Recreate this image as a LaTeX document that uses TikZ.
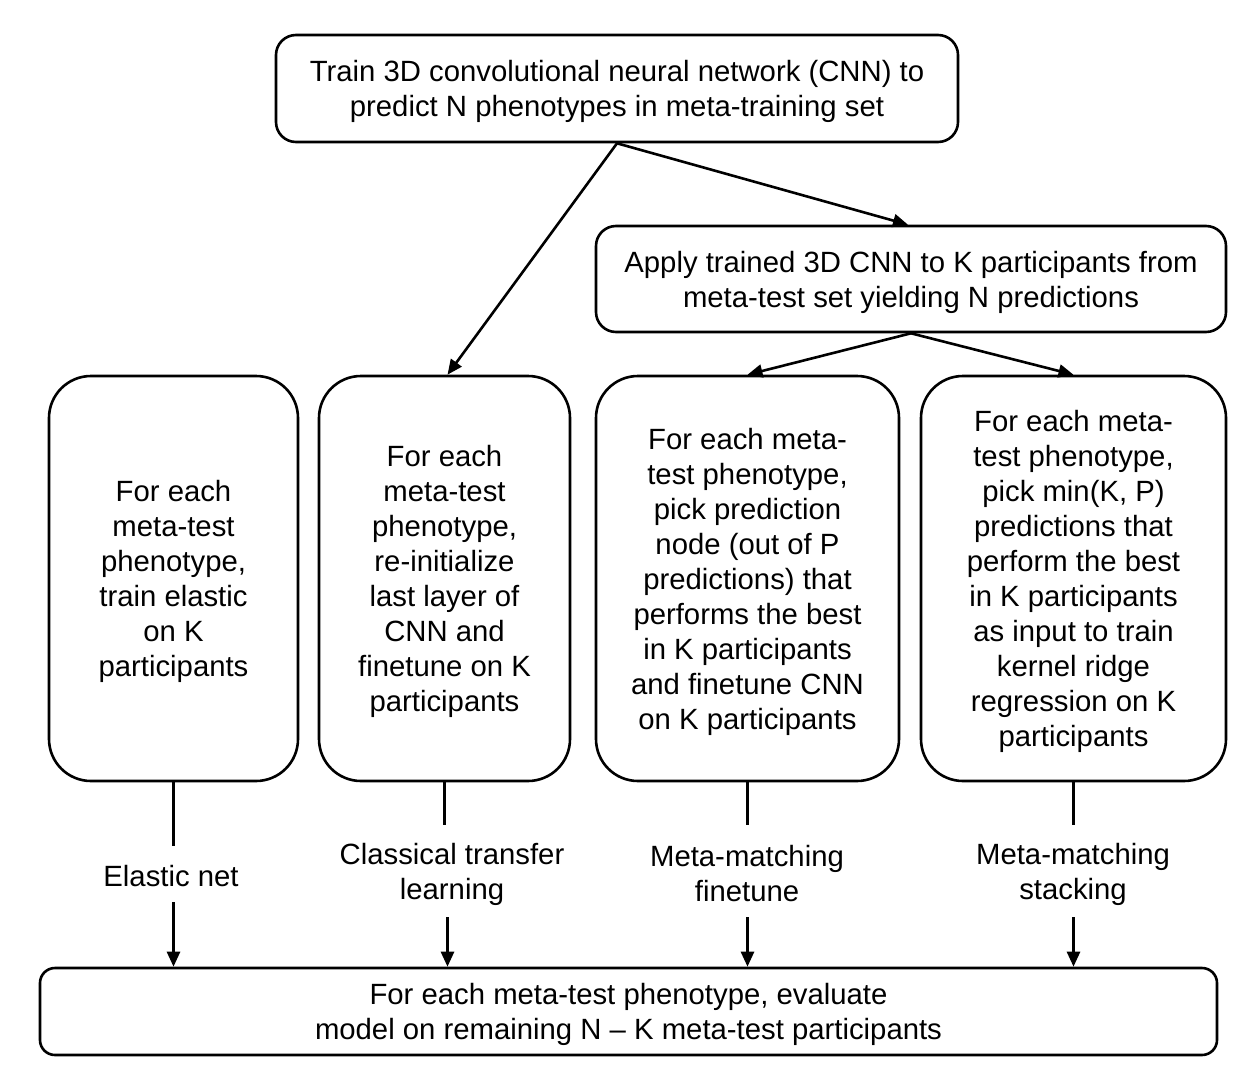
\documentclass[tikz,border=0pt]{standalone}
\usepackage{fontspec}
\setmainfont{Liberation Sans}
\usetikzlibrary{arrows.meta}
\begin{document}
\begin{tikzpicture}[x=1pt,y=-1pt,
  every node/.style={font=\fontsize{29.3}{35}\selectfont, align=center, inner sep=0pt},
  box/.style={draw, line width=2.6pt, rectangle},
  flow/.style={line width=2.6pt},
  arr/.style={line width=2.6pt, -{Triangle[length=15pt,width=13pt]}}
]
\useasboundingbox (0,0) rectangle (1256,1074);

\node[box, rounded corners=20pt, minimum width=682pt, minimum height=107pt] (top) at (617,88.5) {};
\node (topt) at ([yshift=-3pt]top.center)
  {Train 3D convolutional neural network (CNN) to\\predict N phenotypes in meta-training set};
\node[box, rounded corners=20pt, minimum width=630pt, minimum height=106pt] (apply) at (911,279) {};
\node (applyt) at ([yshift=-3pt]apply.center)
  {Apply trained 3D CNN to K participants from\\meta-test set yielding N predictions};

\node[box, rounded corners=42pt, minimum width=249pt, minimum height=405pt] (b1) at (173.5,578.5) {};
\node (b1t) at ([yshift=-3pt]b1.center)
  {For each\\meta-test\\phenotype,\\train elastic\\on K\\participants};
\node[box, rounded corners=42pt, minimum width=251pt, minimum height=405pt] (b2) at (444.5,578.5) {};
\node (b2t) at ([yshift=-3pt]b2.center)
  {For each\\meta-test\\phenotype,\\re-initialize\\last layer of\\CNN and\\finetune on K\\participants};
\node[box, rounded corners=42pt, minimum width=303pt, minimum height=405pt] (b3) at (747.5,578.5) {};
\node (b3t) at ([yshift=-3pt]b3.center)
  {For each meta-\\test phenotype,\\pick prediction\\node (out of P\\predictions) that\\performs the best\\in K participants\\and finetune CNN\\on K participants};
\node[box, rounded corners=42pt, minimum width=305pt, minimum height=405pt] (b4) at (1073.5,578.5) {};
\node (b4t) at ([yshift=-3pt]b4.center)
  {For each meta-\\test phenotype,\\pick min(K, P)\\predictions that\\perform the best\\in K participants\\as input to train\\kernel ridge\\regression on K\\participants};

\node[box, rounded corners=15pt, minimum width=1177pt, minimum height=87pt] (bot) at (628.5,1011.5) {};
\node (bott) at ([yshift=-3pt]bot.center)
  {For each meta-test phenotype, evaluate\\model on remaining N -- K meta-test participants};

\node (l1) at (171,876) {Elastic net};
\node (l2) at (452,874) {Classical transfer\\learning};
\node (l3) at (747,874) {Meta-matching\\finetune};
\node (l4) at (1073,874) {Meta-matching\\stacking};
\coordinate (g1a) at (b1.south |- 0,846);
\coordinate (g1b) at (b1.south |- 0,902);
\coordinate (g2a) at (b2.south |- 0,825);
\coordinate (g2b) at ([xshift=3pt]b2.south |- 0,917);
\coordinate (g3a) at (b3.south |- 0,825);
\coordinate (g3b) at (b3.south |- 0,917);
\coordinate (g4a) at (b4.south |- 0,825);
\coordinate (g4b) at (b4.south |- 0,917);

\draw[arr] (top.south) -- ([xshift=3pt]b2.north);
\draw[arr] (top.south) -- ([xshift=-3pt]apply.north);
\draw[arr] (apply.south) -- (b3.north);
\draw[arr] (apply.south) -- (b4.north);

\draw[flow] (b1.south) -- (g1a);
\draw[arr] (g1b) -- (g1b |- bot.north);
\draw[flow] (b2.south) -- (g2a);
\draw[arr] (g2b) -- (g2b |- bot.north);
\draw[flow] (b3.south) -- (g3a);
\draw[arr] (g3b) -- (g3b |- bot.north);
\draw[flow] (b4.south) -- (g4a);
\draw[arr] (g4b) -- (g4b |- bot.north);
\end{tikzpicture}
\end{document}
